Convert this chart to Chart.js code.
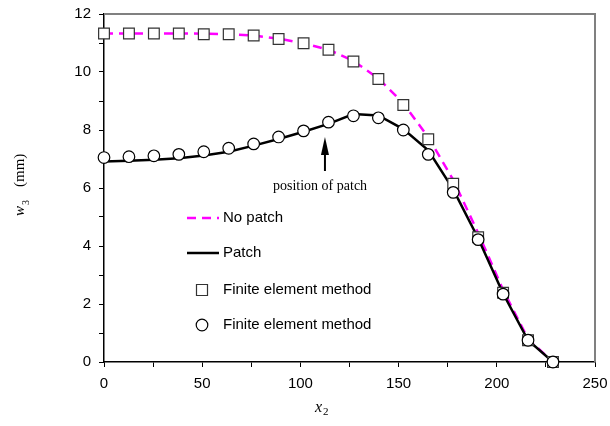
<!DOCTYPE html>
<html>
<head>
<meta charset="utf-8">
<script src="https://cdn.jsdelivr.net/npm/chart.js@4/dist/chart.umd.min.js"></script>
<style>
  html, body { margin: 0; padding: 0; background: #fff; }
  #wrap { width: 610px; height: 426px; }
</style>
</head>
<body>
<div id="wrap"><canvas id="myChart"></canvas></div>
<script>
// x positions (same grid for lines and finite element points)
const xValues = [0, 12.7, 25.4, 38.1, 50.8, 63.5, 76.2, 88.9, 101.6, 114.3, 127, 139.7, 152.4, 165.1, 177.8, 190.5, 203.2, 215.9, 228.6];

// analytic curves
const noPatchLine = [11.33, 11.33, 11.33, 11.33, 11.32, 11.3, 11.26, 11.15, 10.99, 10.77, 10.38, 9.78, 8.92, 7.75, 6.28, 4.45, 2.48, 0.8, 0];
const patchLine = [6.91, 6.94, 6.97, 7.03, 7.12, 7.25, 7.46, 7.69, 7.94, 8.21, 8.55, 8.5, 8.03, 7.3, 5.95, 4.27, 2.36, 0.75, 0];

// finite element results
const femNoPatch = [11.33, 11.33, 11.33, 11.33, 11.3, 11.3, 11.26, 11.14, 10.99, 10.77, 10.36, 9.76, 8.86, 7.68, 6.15, 4.3, 2.39, 0.75, 0];
const femPatch = [7.05, 7.08, 7.11, 7.16, 7.25, 7.37, 7.52, 7.76, 7.97, 8.27, 8.49, 8.42, 8.0, 7.16, 5.85, 4.22, 2.34, 0.75, 0];

const xTicks = [0, 50, 100, 150, 200, 250];
const yTicks = [0, 2, 4, 6, 8, 10, 12];
const patchPosition = 112.5;

const legendLabels = ["No patch", "Patch", "Finite element method", "Finite element method"];

const toPoints = (ys) => xValues.map((x, i) => ({ x: x, y: ys[i] }));

const sansFont = "'Liberation Sans', Arial, sans-serif";
const serifFont = "'Liberation Serif', 'Times New Roman', serif";

const extrasPlugin = {
  id: "extras",
  afterDraw(chart) {
    const ctx = chart.ctx;
    const area = chart.chartArea;
    const xs = chart.scales.x;

    // grey top and right frame
    ctx.save();
    ctx.strokeStyle = "#808080";
    ctx.lineWidth = 2;
    ctx.beginPath();
    ctx.moveTo(area.left, area.top);
    ctx.lineTo(area.right, area.top);
    ctx.lineTo(area.right, area.bottom);
    ctx.stroke();
    ctx.restore();

    // axis titles
    ctx.save();
    ctx.fillStyle = "#000";
    ctx.textBaseline = "alphabetic";
    ctx.font = "italic 16px " + serifFont;
    ctx.fillText("x", 315, 412);
    ctx.font = "11px " + serifFont;
    ctx.fillText("2", 323, 415);
    ctx.restore();

    ctx.save();
    ctx.translate(24, 216);
    ctx.rotate(-Math.PI / 2);
    ctx.fillStyle = "#000";
    ctx.textBaseline = "alphabetic";
    ctx.font = "italic 15px " + serifFont;
    ctx.fillText("w", 0, 0);
    ctx.font = "10px " + serifFont;
    ctx.fillText("3", 11, 5);
    ctx.font = "15px " + serifFont;
    ctx.fillText("(mm)", 29, 0);
    ctx.restore();

    // arrow and annotation
    const ax = xs.getPixelForValue(patchPosition);
    ctx.save();
    ctx.strokeStyle = "#000";
    ctx.fillStyle = "#000";
    ctx.lineWidth = 2;
    ctx.beginPath();
    ctx.moveTo(ax, 171);
    ctx.lineTo(ax, 150);
    ctx.stroke();
    ctx.beginPath();
    ctx.moveTo(ax, 137);
    ctx.lineTo(ax - 4, 155);
    ctx.lineTo(ax + 4, 155);
    ctx.closePath();
    ctx.fill();
    ctx.font = "14px " + serifFont;
    ctx.textAlign = "left";
    ctx.textBaseline = "alphabetic";
    ctx.fillText("position of patch", 273, 190);
    ctx.restore();

    // legend
    const ds = chart.data.datasets;
    const rows = [218, 253, 290, 325];
    ctx.save();
    ctx.font = "15px " + sansFont;
    ctx.textBaseline = "middle";
    ctx.fillStyle = "#000";
    rows.forEach((y, i) => {
      const d = ds[i];
      ctx.save();
      if (i < 2) {
        ctx.strokeStyle = d.borderColor;
        ctx.lineWidth = d.borderWidth;
        ctx.setLineDash(d.borderDash || []);
        ctx.beginPath();
        ctx.moveTo(187, y);
        ctx.lineTo(219, y);
        ctx.stroke();
      } else {
        ctx.strokeStyle = d.borderColor;
        ctx.fillStyle = d.backgroundColor;
        ctx.lineWidth = d.borderWidth;
        ctx.beginPath();
        if (d.pointStyle === "rect") {
          ctx.rect(202 - 5.5, y - 5.5, 11, 11);
        } else {
          ctx.arc(202, y, 5.8, 0, Math.PI * 2);
        }
        ctx.fill();
        ctx.stroke();
      }
      ctx.restore();
      ctx.fillText(legendLabels[i], 223, y);
    });
    ctx.restore();
  }
};

const ctx = document.getElementById("myChart");

new Chart(ctx, {
  type: "line",
  data: {
    datasets: [
      {
        label: legendLabels[0],
        data: toPoints(noPatchLine),
        borderColor: "#ff00ff",
        borderWidth: 2.5,
        borderDash: [9, 6],
        pointRadius: 0,
        tension: 0,
        order: 3,
      },
      {
        label: legendLabels[1],
        data: toPoints(patchLine),
        borderColor: "#000000",
        borderWidth: 2.5,
        pointRadius: 0,
        tension: 0,
        order: 2,
      },
      {
        label: legendLabels[2],
        data: toPoints(femNoPatch),
        showLine: false,
        pointStyle: "rect",
        pointRadius: 7.6,
        pointBackgroundColor: "#ffffff",
        pointBorderColor: "#333333",
        pointBorderWidth: 1.2,
        borderColor: "#333333",
        backgroundColor: "#ffffff",
        borderWidth: 1.2,
        clip: false,
        order: 1,
      },
      {
        label: legendLabels[3],
        data: toPoints(femPatch),
        showLine: false,
        pointStyle: "circle",
        pointRadius: 5.8,
        pointBackgroundColor: "#ffffff",
        pointBorderColor: "#000000",
        pointBorderWidth: 1.2,
        borderColor: "#000000",
        backgroundColor: "#ffffff",
        borderWidth: 1.2,
        clip: false,
        order: 0,
      },
    ],
  },
  options: {
    responsive: true,
    maintainAspectRatio: false,
    animation: false,
    devicePixelRatio: 1,
    layout: {
      padding: { left: 0, right: 15, top: 14, bottom: 0 },
    },
    plugins: {
      legend: { display: false },
      tooltip: { enabled: false },
    },
    scales: {
      x: {
        type: "linear",
        min: 0,
        max: 250,
        afterFit: (scale) => {
          scale.height = 64;
          scale.paddingLeft = 0;
          scale.paddingRight = 0;
        },
        ticks: {
          stepSize: 25,
          autoSkip: false,
          maxRotation: 0,
          padding: 8,
          color: "#000",
          font: { family: sansFont, size: 15 },
          callback: (v) => (xTicks.includes(v) ? v : ""),
        },
        grid: {
          drawOnChartArea: false,
          drawTicks: true,
          tickLength: 5,
          color: "#000",
          lineWidth: 1,
        },
        border: { display: true, color: "#000", width: 1.5 },
      },
      y: {
        min: 0,
        max: 12,
        afterFit: (scale) => {
          scale.width = 104;
          scale.paddingTop = 0;
          scale.paddingBottom = 0;
        },
        ticks: {
          stepSize: 1,
          autoSkip: false,
          padding: 8,
          color: "#000",
          font: { family: sansFont, size: 15 },
          callback: (v) => (yTicks.includes(v) ? v : ""),
        },
        grid: {
          drawOnChartArea: false,
          drawTicks: true,
          tickLength: 5,
          color: "#000",
          lineWidth: 1,
        },
        border: { display: true, color: "#000", width: 1.5 },
      },
    },
  },
  plugins: [extrasPlugin],
});
</script>
</body>
</html>
